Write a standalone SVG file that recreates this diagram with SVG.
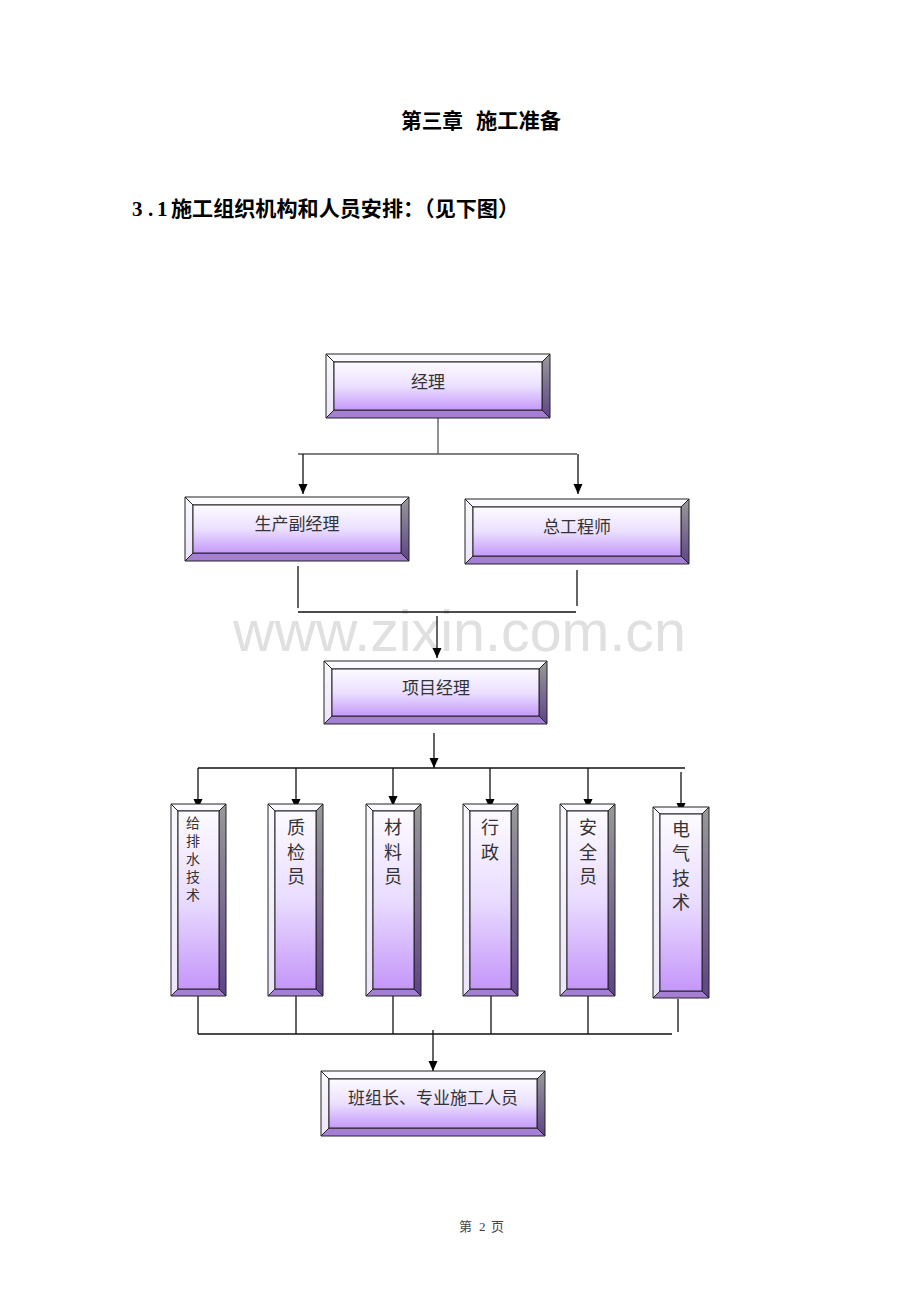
<svg xmlns="http://www.w3.org/2000/svg" width="920" height="1302" viewBox="0 0 920 1302">
<style>
.bg{fill:#ffffff}
.wm{font-family:"Liberation Sans",Arial,sans-serif;font-size:57px;fill:#e0e0e0}
.h1{font-family:"Liberation Serif","Noto Sans CJK SC",serif;font-size:21px;font-weight:bold;fill:#000}
.lbl{font-family:"Noto Sans CJK SC",sans-serif;font-size:17px;fill:#333;text-anchor:middle;dominant-baseline:central}
.vl{font-family:"Noto Sans CJK SC",sans-serif;font-size:18px;fill:#333;text-anchor:middle;dominant-baseline:central}
.vs{font-family:"Noto Sans CJK SC",sans-serif;font-size:14px;fill:#333;text-anchor:middle;dominant-baseline:central}
.ft{font-family:"Liberation Serif","Noto Sans CJK SC",serif;font-size:13px;fill:#444}
.bt{fill:#fbfaff;stroke:#222;stroke-width:1}
.bl{fill:url(#gLeft);stroke:#222;stroke-width:1}
.br{fill:url(#gRight);stroke:#222;stroke-width:1}
.bb{fill:#a47fd3;stroke:#222;stroke-width:1}
.fc{fill:url(#gFace);stroke:#222;stroke-width:1}
.fv{fill:url(#gFaceV);stroke:#222;stroke-width:1}
.ln{stroke:#111;stroke-width:1.3;fill:none}
.lg{stroke:#555;stroke-width:1.3;fill:none}
.ar{stroke:#111;stroke-width:1.3;fill:none;marker-end:url(#arr)}
</style>
<defs>
<linearGradient id="gFace" x1="0" y1="0" x2="0" y2="1">
<stop offset="0" stop-color="#fdfbff"/>
<stop offset="0.5" stop-color="#ebe0ff"/>
<stop offset="1" stop-color="#c599fa"/>
</linearGradient>
<linearGradient id="gFaceV" x1="0" y1="0" x2="0" y2="1">
<stop offset="0" stop-color="#fdfbff"/>
<stop offset="0.5" stop-color="#e9dcff"/>
<stop offset="1" stop-color="#c596fa"/>
</linearGradient>
<linearGradient id="gRight" x1="0" y1="0" x2="0" y2="1">
<stop offset="0" stop-color="#999999"/>
<stop offset="1" stop-color="#5e4488"/>
</linearGradient>
<linearGradient id="gLeft" x1="0" y1="0" x2="0" y2="1">
<stop offset="0" stop-color="#fafafd"/>
<stop offset="1" stop-color="#ece4fb"/>
</linearGradient>
<marker id="arr" markerUnits="userSpaceOnUse" markerWidth="10" markerHeight="10" refX="10" refY="4.5" orient="auto">
<path d="M0,0 L10,4.5 L0,9 z" fill="#000"/>
</marker>
</defs>
<rect class="bg" x="0" y="0" width="920" height="1302"/>
<text class="wm" x="233" y="651" textLength="453" lengthAdjust="spacingAndGlyphs">www.zixin.com.cn</text>
<text class="h1" y="128"><tspan x="401" textLength="62" lengthAdjust="spacingAndGlyphs">第三章</tspan> <tspan x="476" textLength="85" lengthAdjust="spacingAndGlyphs">施工准备</tspan></text>
<text class="h1" y="216"><tspan x="132">3</tspan><tspan x="148">.</tspan><tspan x="157">1</tspan><tspan x="171" textLength="348" lengthAdjust="spacingAndGlyphs">施工组织机构和人员安排：（见下图）</tspan></text>

<g id="connectors">
<polyline class="lg" points="438,418 438,454"/>
<polyline class="lg" points="298,454 577,454"/>
<line class="ar" x1="303" y1="454" x2="303" y2="494"/>
<line class="ar" x1="578" y1="454" x2="578" y2="494"/>
<line class="ln" x1="298" y1="566" x2="298" y2="608"/>
<line class="ln" x1="577" y1="570" x2="577" y2="606"/>
<line class="ln" x1="298" y1="612" x2="576" y2="612"/>
<line class="ar" x1="437" y1="616" x2="437" y2="658"/>
<line class="ar" x1="434" y1="733" x2="434" y2="768"/>
<line class="ln" x1="198" y1="768" x2="685" y2="768"/>
<line class="ar" x1="198" y1="768" x2="198" y2="809"/>
<line class="ar" x1="296" y1="768" x2="296" y2="809"/>
<line class="ar" x1="393" y1="768" x2="393" y2="806"/>
<line class="ar" x1="490" y1="768" x2="490" y2="809"/>
<line class="ar" x1="588" y1="768" x2="588" y2="809"/>
<line class="ar" x1="681" y1="772" x2="681" y2="813"/>
<line class="ln" x1="198" y1="996" x2="198" y2="1034"/>
<line class="ln" x1="296" y1="996" x2="296" y2="1034"/>
<line class="ln" x1="393" y1="996" x2="393" y2="1034"/>
<line class="ln" x1="491" y1="996" x2="491" y2="1034"/>
<line class="ln" x1="588" y1="996" x2="588" y2="1034"/>
<line class="ln" x1="678" y1="999" x2="678" y2="1032"/>
<line class="ln" x1="198" y1="1034" x2="672" y2="1034"/>
<line class="ar" x1="433" y1="1030" x2="433" y2="1071"/>
</g>

<g id="n_jingli">
<polygon class="bt" points="326,354 550,354 542,362 334,362"/>
<polygon class="bl" points="326,354 334,362 334,410 326,418"/>
<polygon class="br" points="550,354 550,418 542,410 542,362"/>
<polygon class="bb" points="326,418 334,410 542,410 550,418"/>
<rect class="fc" x="334" y="362" width="208" height="48"/>
<text class="lbl" x="428" y="380">经理</text>
</g>

<g id="n_fujingli">
<polygon class="bt" points="185,497 409,497 401,505 193,505"/>
<polygon class="bl" points="185,497 193,505 193,553 185,561"/>
<polygon class="br" points="409,497 409,561 401,553 401,505"/>
<polygon class="bb" points="185,561 193,553 401,553 409,561"/>
<rect class="fc" x="193" y="505" width="208" height="48"/>
<text class="lbl" x="297" y="522">生产副经理</text>
</g>

<g id="n_zonggong">
<polygon class="bt" points="465,499 689,499 681,507 473,507"/>
<polygon class="bl" points="465,499 473,507 473,556 465,564"/>
<polygon class="br" points="689,499 689,564 681,556 681,507"/>
<polygon class="bb" points="465,564 473,556 681,556 689,564"/>
<rect class="fc" x="473" y="507" width="208" height="49"/>
<text class="lbl" x="577" y="525">总工程师</text>
</g>

<g id="n_xiangmu">
<polygon class="bt" points="324,661 547,661 539,669 332,669"/>
<polygon class="bl" points="324,661 332,669 332,716 324,724"/>
<polygon class="br" points="547,661 547,724 539,716 539,669"/>
<polygon class="bb" points="324,724 332,716 539,716 547,724"/>
<rect class="fc" x="332" y="669" width="207" height="47"/>
<text class="lbl" x="436" y="686">项目经理</text>
</g>

<g id="n_geipaishui">
<polygon class="bt" points="171,804 226,804 219,811 178,811"/>
<polygon class="bl" points="171,804 178,811 178,989 171,996"/>
<polygon class="br" points="226,804 226,996 219,989 219,811"/>
<polygon class="bb" points="171,996 178,989 219,989 226,996"/>
<rect class="fv" x="178" y="811" width="41" height="178"/>
<text class="vs" x="193" y="822">给</text>
<text class="vs" x="193" y="840">排</text>
<text class="vs" x="193" y="858">水</text>
<text class="vs" x="193" y="876">技</text>
<text class="vs" x="193" y="894">术</text>
</g>

<g id="n_zhijian">
<polygon class="bt" points="268,804 323,804 316,811 275,811"/>
<polygon class="bl" points="268,804 275,811 275,989 268,996"/>
<polygon class="br" points="323,804 323,996 316,989 316,811"/>
<polygon class="bb" points="268,996 275,989 316,989 323,996"/>
<rect class="fv" x="275" y="811" width="41" height="178"/>
<text class="vl" x="296" y="826">质</text>
<text class="vl" x="296" y="851">检</text>
<text class="vl" x="296" y="875">员</text>
</g>

<g id="n_cailiao">
<polygon class="bt" points="366,804 421,804 414,811 373,811"/>
<polygon class="bl" points="366,804 373,811 373,989 366,996"/>
<polygon class="br" points="421,804 421,996 414,989 414,811"/>
<polygon class="bb" points="366,996 373,989 414,989 421,996"/>
<rect class="fv" x="373" y="811" width="41" height="178"/>
<text class="vl" x="393" y="826">材</text>
<text class="vl" x="393" y="851">料</text>
<text class="vl" x="393" y="875">员</text>
</g>

<g id="n_xingzheng">
<polygon class="bt" points="463,804 518,804 511,811 470,811"/>
<polygon class="bl" points="463,804 470,811 470,989 463,996"/>
<polygon class="br" points="518,804 518,996 511,989 511,811"/>
<polygon class="bb" points="463,996 470,989 511,989 518,996"/>
<rect class="fv" x="470" y="811" width="41" height="178"/>
<text class="vl" x="490" y="826">行</text>
<text class="vl" x="490" y="851">政</text>
</g>

<g id="n_anquan">
<polygon class="bt" points="560,804 615,804 608,811 567,811"/>
<polygon class="bl" points="560,804 567,811 567,989 560,996"/>
<polygon class="br" points="615,804 615,996 608,989 608,811"/>
<polygon class="bb" points="560,996 567,989 608,989 615,996"/>
<rect class="fv" x="567" y="811" width="41" height="178"/>
<text class="vl" x="588" y="826">安</text>
<text class="vl" x="588" y="851">全</text>
<text class="vl" x="588" y="875">员</text>
</g>

<g id="n_dianqi">
<polygon class="bt" points="653,807 709,807 702,814 660,814"/>
<polygon class="bl" points="653,807 660,814 660,991 653,998"/>
<polygon class="br" points="709,807 709,998 702,991 702,814"/>
<polygon class="bb" points="653,998 660,991 702,991 709,998"/>
<rect class="fv" x="660" y="814" width="42" height="177"/>
<text class="vl" x="681" y="828">电</text>
<text class="vl" x="681" y="852">气</text>
<text class="vl" x="681" y="877">技</text>
<text class="vl" x="681" y="901">术</text>
</g>

<g id="n_banzu">
<polygon class="bt" points="321,1071 545,1071 537,1079 329,1079"/>
<polygon class="bl" points="321,1071 329,1079 329,1128 321,1136"/>
<polygon class="br" points="545,1071 545,1136 537,1128 537,1079"/>
<polygon class="bb" points="321,1136 329,1128 537,1128 545,1136"/>
<rect class="fc" x="329" y="1079" width="208" height="49"/>
<text class="lbl" x="433" y="1096">班组长、专业施工人员</text>
</g>

<text class="ft" y="1231"><tspan x="459">第</tspan> <tspan x="479">2</tspan> <tspan x="491">页</tspan></text>
</svg>
